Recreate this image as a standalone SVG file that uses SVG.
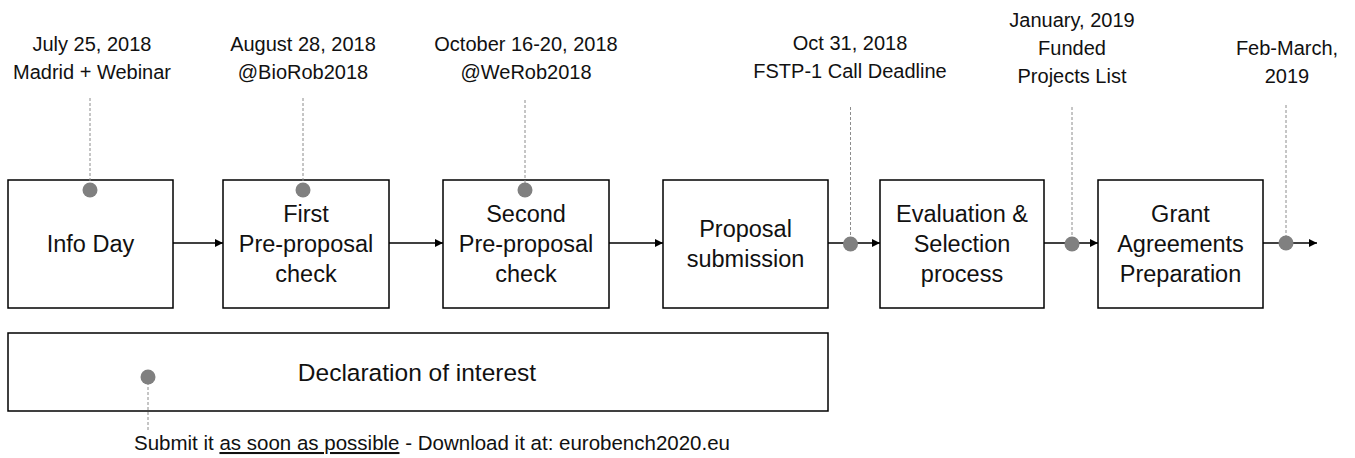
<svg xmlns="http://www.w3.org/2000/svg" width="1355" height="458" viewBox="0 0 1355 458">
<style>
  .box { fill: #ffffff; stroke: #000000; stroke-width: 1.5; }
  .btxt { font-family: "Liberation Sans", Arial, sans-serif; font-size: 23.5px; fill: #111111; text-anchor: middle; }
  .lbl { font-family: "Liberation Sans", Arial, sans-serif; font-size: 20px; fill: #111111; text-anchor: middle; }
  .dash { stroke: #8c8c8c; stroke-width: 1; stroke-dasharray: 3 2; fill: none; }
  .dot { fill: #808080; }
  .conn { stroke: #000000; stroke-width: 1.5; fill: none; marker-end: url(#arrow); }
</style>
<defs>
  <marker id="arrow" viewBox="0 0 10 10" refX="10" refY="5" markerWidth="9" markerHeight="8" markerUnits="userSpaceOnUse" orient="auto">
    <path d="M0,0 L10,5 L0,10 Z" fill="#000000"/>
  </marker>
</defs>
<rect width="1355" height="458" fill="#ffffff"/>

<g id="connectors">
  <line class="conn" x1="173" y1="243" x2="223" y2="243"/>
  <line class="conn" x1="389" y1="243" x2="443" y2="243"/>
  <line class="conn" x1="609" y1="243" x2="663" y2="243"/>
  <line class="conn" x1="828" y1="243" x2="880" y2="243"/>
  <line class="conn" x1="1044" y1="243" x2="1098" y2="243"/>
  <line class="conn" x1="1263" y1="243" x2="1317" y2="243"/>
</g>

<g id="info-day">
  <rect class="box" x="8" y="180" width="165" height="128"/>
  <text class="btxt" x="90.5" y="252">Info Day</text>
</g>
<g id="first-check">
  <rect class="box" x="223" y="180" width="166" height="128"/>
  <text class="btxt" x="306" y="222">First</text>
  <text class="btxt" x="306" y="252">Pre-proposal</text>
  <text class="btxt" x="306" y="282">check</text>
</g>
<g id="second-check">
  <rect class="box" x="443" y="180" width="166" height="128"/>
  <text class="btxt" x="526" y="222">Second</text>
  <text class="btxt" x="526" y="252">Pre-proposal</text>
  <text class="btxt" x="526" y="282">check</text>
</g>
<g id="proposal-submission">
  <rect class="box" x="663" y="180" width="165" height="128"/>
  <text class="btxt" x="745.5" y="237">Proposal</text>
  <text class="btxt" x="745.5" y="267">submission</text>
</g>
<g id="evaluation">
  <rect class="box" x="880" y="180" width="164" height="128"/>
  <text class="btxt" x="962" y="222">Evaluation &amp;</text>
  <text class="btxt" x="962" y="252">Selection</text>
  <text class="btxt" x="962" y="282">process</text>
</g>
<g id="grant">
  <rect class="box" x="1098" y="180" width="165" height="128"/>
  <text class="btxt" x="1180.5" y="222">Grant</text>
  <text class="btxt" x="1180.5" y="252">Agreements</text>
  <text class="btxt" x="1180.5" y="282">Preparation</text>
</g>
<g id="declaration">
  <rect class="box" x="8" y="333" width="820" height="78"/>
  <text class="btxt" x="417" y="381" style="font-size:24.5px">Declaration of interest</text>
</g>

<g id="milestone-july">
  <text class="lbl" x="92" y="51">July 25, 2018</text>
  <text class="lbl" x="92" y="79">Madrid + Webinar</text>
  <line class="dash" x1="90" y1="98" x2="90" y2="190"/>
  <circle class="dot" cx="90" cy="190" r="7.5"/>
</g>
<g id="milestone-august">
  <text class="lbl" x="303" y="51">August 28, 2018</text>
  <text class="lbl" x="303" y="79">@BioRob2018</text>
  <line class="dash" x1="303" y1="98" x2="303" y2="190"/>
  <circle class="dot" cx="303" cy="190" r="7.5"/>
</g>
<g id="milestone-october">
  <text class="lbl" x="526" y="51">October 16-20, 2018</text>
  <text class="lbl" x="526" y="79">@WeRob2018</text>
  <line class="dash" x1="525" y1="100" x2="525" y2="190"/>
  <circle class="dot" cx="525" cy="190" r="7.5"/>
</g>
<g id="milestone-oct31">
  <text class="lbl" x="850" y="50">Oct 31, 2018</text>
  <text class="lbl" x="850" y="78">FSTP-1 Call Deadline</text>
  <line class="dash" x1="850.5" y1="107" x2="850.5" y2="244"/>
  <circle class="dot" cx="850.5" cy="244" r="7.5"/>
</g>
<g id="milestone-january">
  <text class="lbl" x="1072" y="27">January, 2019</text>
  <text class="lbl" x="1072" y="55">Funded</text>
  <text class="lbl" x="1072" y="83">Projects List</text>
  <line class="dash" x1="1072" y1="107" x2="1072" y2="244"/>
  <circle class="dot" cx="1072" cy="244" r="7.5"/>
</g>
<g id="milestone-feb">
  <text class="lbl" x="1287" y="55">Feb-March,</text>
  <text class="lbl" x="1287" y="83">2019</text>
  <line class="dash" x1="1286" y1="105" x2="1286" y2="243"/>
  <circle class="dot" cx="1286" cy="243" r="7.5"/>
</g>
<g id="milestone-declaration">
  <line class="dash" x1="148" y1="377" x2="148" y2="430"/>
  <circle class="dot" cx="148" cy="377" r="7.5"/>
  <text class="lbl" x="134" y="450" style="text-anchor:start;font-size:20.5px">Submit it <tspan text-decoration="underline">as soon as possible</tspan> - Download it at: eurobench2020.eu</text>
</g>
</svg>
